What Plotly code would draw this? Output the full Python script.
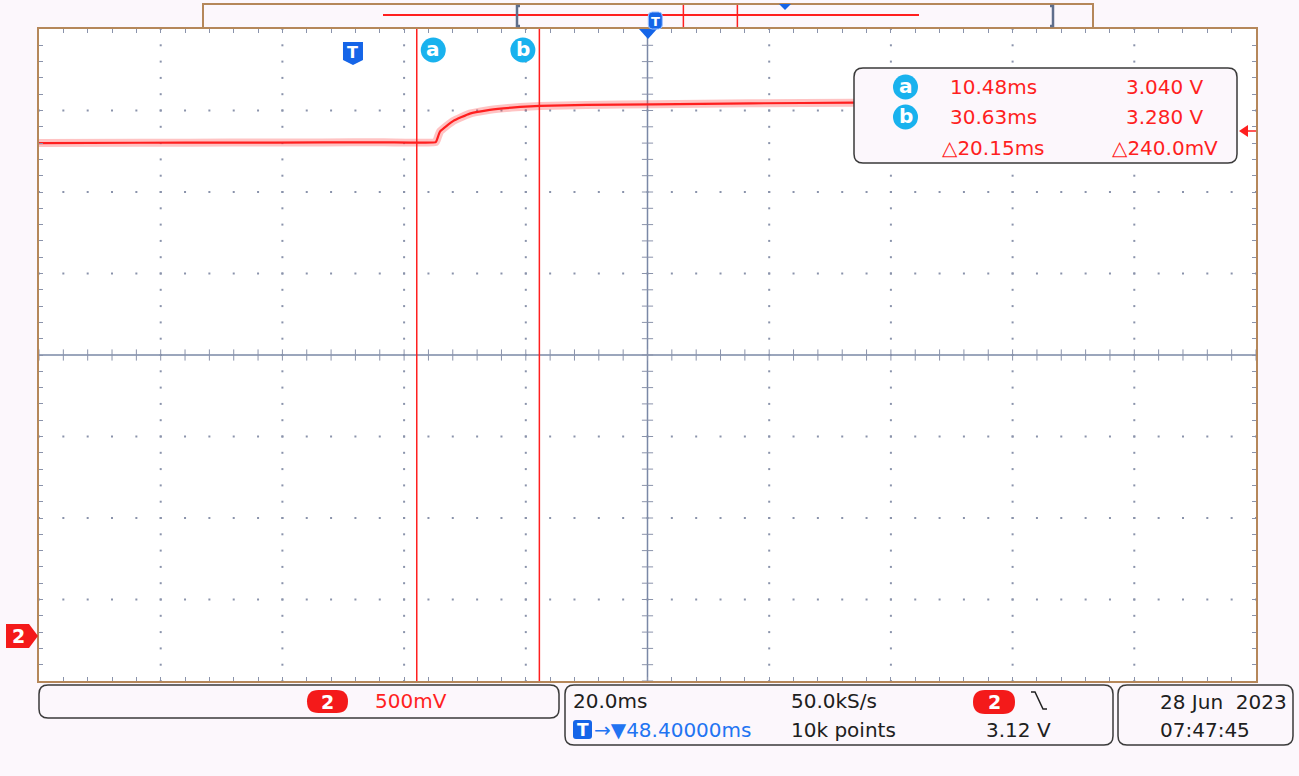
import plotly.graph_objects as go
import numpy as np

# ---------------- data ----------------
time_ms = [-51.6, -35.0, -20.0, -5.0, 5.0, 13.6, 13.8, 14.3, 16.5, 19.2, 22.0,
           24.7, 27.5, 30.7, 38.4, 49.4, 65.3, 82.5, 97.6]
volts = [3.024, 3.026, 3.027, 3.028, 3.029, 3.030, 3.045, 3.095, 3.160, 3.205,
         3.225, 3.237, 3.246, 3.252, 3.258, 3.262, 3.268, 3.272, 3.274]

cursor_names = ["a", "b"]
cursor_time_ms = [10.48, 30.63]
cursor_volts = [3.040, 3.280]

time_per_div_ms = 20.0
volts_per_div = 0.5
delay_ms = 48.40
trigger_level_v = 3.12
sample_rate_txt = "50.0kS/s"
record_txt = "10k points"
date_txt = "28 Jun\u00a0\u00a02023"
clock_txt = "07:47:45"
ground_offset_div = 0.552          # channel-2 ground marker above bottom graticule
record_ms = [-101.6, 98.4]          # acquired record span shown in overview bar

# ---------------- geometry ----------------
W, H = 1299, 776
L, R, T, B = 39, 1256, 29, 681
t_left = delay_ms - 5 * time_per_div_ms
t_right = delay_ms + 5 * time_per_div_ms
v_bottom = -ground_offset_div * volts_per_div
v_top = v_bottom + 8 * volts_per_div

FONT = "DejaVu Sans"
RED = "#ff1f1f"
CYAN = "#19b2ee"
BLUE = "#1565e8"
GRID = "#8a93ab"
FRAME = "#b5875a"
BOXLINE = "#3a3a3a"
BG = "#fcf7fc"


def px(x):
    return (x - L) / (R - L)


def py(y):
    return (B - y) / (B - T)


def t2px(t):
    return L + (t - t_left) / (t_right - t_left) * (R - L)


def rrect(x0, y0, x1, y1, r):
    pts = [
        f"M {px(x0 + r)},{py(y0)}",
        f"L {px(x1 - r)},{py(y0)}",
        f"Q {px(x1)},{py(y0)} {px(x1)},{py(y0 + r)}",
        f"L {px(x1)},{py(y1 - r)}",
        f"Q {px(x1)},{py(y1)} {px(x1 - r)},{py(y1)}",
        f"L {px(x0 + r)},{py(y1)}",
        f"Q {px(x0)},{py(y1)} {px(x0)},{py(y1 - r)}",
        f"L {px(x0)},{py(y0 + r)}",
        f"Q {px(x0)},{py(y0)} {px(x0 + r)},{py(y0)}",
        "Z",
    ]
    return " ".join(pts)


def poly(points):
    return "M " + " L ".join(f"{px(x)},{py(y)}" for x, y in points) + " Z"


shapes = []
annots = []


def add_text(x, y, text, color="#202020", size=20, xanchor="left", bold=False):
    annots.append(dict(
        x=px(x), y=py(y), xref="paper", yref="paper", text=(f"<b>{text}</b>" if bold else text),
        showarrow=False, xanchor=xanchor, yanchor="middle",
        font=dict(family=FONT, size=size, color=color), borderpad=0,
    ))


fig = go.Figure()

# ---------------- graticule dots ----------------
gx, gy = [], []
for k in range(1, 10):
    if k == 5:
        continue
    tx = t_left + k * time_per_div_ms
    for j in range(0, 41):
        gx.append(tx)
        gy.append(v_bottom + j * volts_per_div / 5)
for k in range(1, 8):
    if k == 4:
        continue
    vy = v_bottom + k * volts_per_div
    for j in range(0, 51):
        gx.append(t_left + j * time_per_div_ms / 5)
        gy.append(vy)
fig.add_trace(go.Scatter(x=gx, y=gy, mode="markers", hoverinfo="skip",
                         marker=dict(symbol="square", size=2, color=GRID, line=dict(width=0)),
                         showlegend=False))

t_mid = delay_ms
v_mid = v_bottom + 4 * volts_per_div
fig.add_trace(go.Scatter(x=[t_mid, t_mid], y=[v_bottom, v_top], mode="lines",
                         line=dict(color="#7a88a6", width=1.5), hoverinfo="skip", showlegend=False))
fig.add_trace(go.Scatter(x=[t_left, t_right], y=[v_mid, v_mid], mode="lines",
                         line=dict(color="#7a88a6", width=1.5), hoverinfo="skip", showlegend=False))
fig.add_trace(go.Scatter(x=[t_mid] * 41, y=[v_bottom + j * volts_per_div / 5 for j in range(41)],
                         mode="markers", hoverinfo="skip", showlegend=False,
                         marker=dict(symbol="line-ew", size=8, line=dict(color=GRID, width=1))))
fig.add_trace(go.Scatter(x=[t_left + j * time_per_div_ms / 5 for j in range(51)], y=[v_mid] * 51,
                         mode="markers", hoverinfo="skip", showlegend=False,
                         marker=dict(symbol="line-ns", size=8, line=dict(color=GRID, width=1))))

# ---------------- signal trace ----------------
fig.add_trace(go.Scatter(x=time_ms, y=volts, mode="lines", hoverinfo="skip", showlegend=False,
                         line=dict(color="rgba(255,40,40,0.28)", width=8, shape="spline", smoothing=0.4)))
fig.add_trace(go.Scatter(x=time_ms, y=volts, mode="lines", showlegend=False,
                         line=dict(color=RED, width=2.2, shape="spline", smoothing=0.4)))

# ---------------- cursors ----------------
for ct in cursor_time_ms:
    shapes.append(dict(type="line", xref="x", yref="paper", x0=ct, x1=ct, y0=0, y1=1,
                       line=dict(color=RED, width=1.5), layer="above"))

# cursor label bubbles (a sits right of its cursor, b left of its cursor)
label_offsets_px = [16.5, -16.5]
for name, ct, off in zip(cursor_names, cursor_time_ms, label_offsets_px):
    cx = t2px(ct) + off
    shapes.append(dict(type="circle", xref="paper", yref="paper", x0=px(cx - 12.5), x1=px(cx + 12.5),
                       y0=py(62.5), y1=py(37.5), fillcolor=CYAN, line=dict(width=0), layer="above"))
    add_text(cx, 49, f"<b>{name}</b>", color="white", size=20, xanchor="center")

# trigger point shield marker
tx = t2px(0.0)
shapes.append(dict(type="path", xref="paper", yref="paper",
                   path=poly([(tx - 10, 42), (tx + 10, 42), (tx + 10, 60), (tx, 65), (tx - 10, 60)]),
                   fillcolor=BLUE, line=dict(width=0), layer="above"))
add_text(tx, 52, "T", color="white", size=16, xanchor="center", bold=True)

# ---------------- readout box ----------------
shapes.append(dict(type="path", xref="paper", yref="paper", path=rrect(854, 68, 1237, 163, 9),
                   fillcolor=BG, line=dict(color=BOXLINE, width=1.5), layer="above"))
row_y = [87, 117]
for name, ct, cv, ry in zip(cursor_names, cursor_time_ms, cursor_volts, row_y):
    shapes.append(dict(type="circle", xref="paper", yref="paper", x0=px(893), x1=px(918),
                       y0=py(ry + 12.5), y1=py(ry - 12.5), fillcolor=CYAN, line=dict(width=0), layer="above"))
    add_text(905.5, ry - 1, f"<b>{name}</b>", color="white", size=20, xanchor="center")
    add_text(993, ry, f"{ct:.2f}ms", color=RED, size=20, xanchor="center")
    add_text(1165, ry, f"{cv:.3f} V", color=RED, size=20, xanchor="center")
dt = cursor_time_ms[1] - cursor_time_ms[0]
dv = cursor_volts[1] - cursor_volts[0]
add_text(993, 148, f"\u25b3{dt:.2f}ms", color=RED, size=20, xanchor="center")
add_text(1165, 148, f"\u25b3{dv * 1000:.1f}mV", color=RED, size=20, xanchor="center")

# ---------------- trigger level arrow (right) & ground marker (left) ----------------
shapes.append(dict(type="path", xref="paper", yref="paper",
                   path=poly([(1239, 131), (1248, 125), (1248, 137)]), fillcolor=RED,
                   line=dict(width=0), layer="above"))
shapes.append(dict(type="line", xref="paper", yref="paper", x0=px(1246), x1=px(1256), y0=py(131), y1=py(131),
                   line=dict(color=RED, width=1.5), layer="above"))
shapes.append(dict(type="path", xref="paper", yref="paper",
                   path=poly([(6, 624), (29, 624), (38, 636), (29, 648), (6, 648)]), fillcolor="#f41a1a",
                   line=dict(width=0)))
add_text(18, 636, "2", color="white", size=19, xanchor="center", bold=True)

shapes.append(dict(type="path", xref="paper", yref="paper",
                   path=poly([(639, 29), (657, 29), (648, 39)]), fillcolor=BLUE, line=dict(width=0), layer="above"))

# ---------------- overview bar ----------------
OV0, OV1 = 517, 1053


def t2ov(t):
    return OV0 + (t - t_left) / (t_right - t_left) * (OV1 - OV0)


shapes.append(dict(type="rect", xref="paper", yref="paper", x0=px(203), x1=px(1093), y0=py(28), y1=py(4),
                   fillcolor=BG, line=dict(color=FRAME, width=2)))
shapes.append(dict(type="line", xref="paper", yref="paper", x0=px(t2ov(record_ms[0])), x1=px(t2ov(record_ms[1])),
                   y0=py(15), y1=py(15), line=dict(color=RED, width=2)))
for ct in cursor_time_ms:
    xo = t2ov(ct)
    shapes.append(dict(type="line", xref="paper", yref="paper", x0=px(xo), x1=px(xo), y0=py(27), y1=py(5),
                       line=dict(color=RED, width=1.5)))
for xb, d in [(OV0, 1), (OV1, -1)]:
    shapes.append(dict(type="path", xref="paper", yref="paper",
                       path=f"M {px(xb + 3 * d)},{py(6)} L {px(xb)},{py(6)} L {px(xb)},{py(26)} L {px(xb + 3 * d)},{py(26)}",
                       line=dict(color="#5f6e8c", width=2.5)))
xo_t = t2ov(0.0)
shapes.append(dict(type="path", xref="paper", yref="paper", path=rrect(xo_t - 7, 12, xo_t + 7, 29, 4),
                   fillcolor=BLUE, line=dict(color="#9cc0ff", width=1)))
add_text(xo_t, 21, "T", color="white", size=13, xanchor="center", bold=True)
xo_d = t2ov(delay_ms)
shapes.append(dict(type="path", xref="paper", yref="paper",
                   path=poly([(xo_d - 6, 4), (xo_d + 6, 4), (xo_d, 10)]), fillcolor=BLUE, line=dict(width=0)))

# ---------------- bottom status boxes ----------------
shapes.append(dict(type="path", xref="paper", yref="paper", path=rrect(39, 685, 559, 718, 9),
                   fillcolor=BG, line=dict(color=BOXLINE, width=1.5)))
shapes.append(dict(type="path", xref="paper", yref="paper", path=rrect(565, 685, 1113, 745, 9),
                   fillcolor=BG, line=dict(color=BOXLINE, width=1.5)))
shapes.append(dict(type="path", xref="paper", yref="paper", path=rrect(1118, 685, 1293, 745, 9),
                   fillcolor=BG, line=dict(color=BOXLINE, width=1.5)))

shapes.append(dict(type="path", xref="paper", yref="paper", path=rrect(307, 690, 348, 713, 11.5),
                   fillcolor="#f41a1a", line=dict(width=0)))
add_text(327.5, 701.5, "2", color="white", size=19, xanchor="center", bold=True)
add_text(374, 701, f"{int(round(volts_per_div * 1000))}mV", color=RED, size=20)

add_text(572, 701, f"{time_per_div_ms:.1f}ms")
add_text(790, 701, sample_rate_txt)
add_text(790, 730, record_txt)
shapes.append(dict(type="path", xref="paper", yref="paper", path=rrect(973, 690, 1015, 714, 12),
                   fillcolor="#f41a1a", line=dict(width=0)))
add_text(994, 702, "2", color="white", size=19, xanchor="center", bold=True)
shapes.append(dict(type="path", xref="paper", yref="paper",
                   path=f"M {px(1031)},{py(692)} L {px(1035)},{py(692)} L {px(1043)},{py(709)} L {px(1047)},{py(709)}",
                   line=dict(color="#202020", width=1.5)))
add_text(985, 730, f"{trigger_level_v:.2f} V")
shapes.append(dict(type="path", xref="paper", yref="paper", path=rrect(573, 720, 592, 739, 3),
                   fillcolor=BLUE, line=dict(width=0)))
add_text(582.5, 730, "T", color="white", size=17, xanchor="center", bold=True)
add_text(593, 730, f"\u2192\u25bc{delay_ms:.5f}ms", color="#2274f2", size=20)

add_text(1159, 702, date_txt)
add_text(1159, 730, clock_txt)

# ---------------- layout ----------------
fig.update_layout(
    width=W, height=H, autosize=False,
    margin=dict(l=L, r=W - R, t=T, b=H - B, pad=0),
    paper_bgcolor=BG, plot_bgcolor="white",
    shapes=shapes, annotations=annots, showlegend=False,
    xaxis=dict(range=[t_left, t_right], showgrid=False, zeroline=False, showticklabels=False,
               ticks="inside", ticklen=4, tickwidth=1, tickcolor=GRID, tick0=t_left, dtick=time_per_div_ms / 5,
               showline=True, linecolor=FRAME, linewidth=2, mirror="allticks", fixedrange=True),
    yaxis=dict(range=[v_bottom, v_top], showgrid=False, zeroline=False, showticklabels=False,
               ticks="inside", ticklen=4, tickwidth=1, tickcolor=GRID, tick0=v_bottom, dtick=volts_per_div / 5,
               showline=True, linecolor=FRAME, linewidth=2, mirror="allticks", fixedrange=True),
)

fig.write_html("out.html", config={"displayModeBar": False},
               post_script="document.body.style.margin='0px';document.body.style.overflow='hidden';")
